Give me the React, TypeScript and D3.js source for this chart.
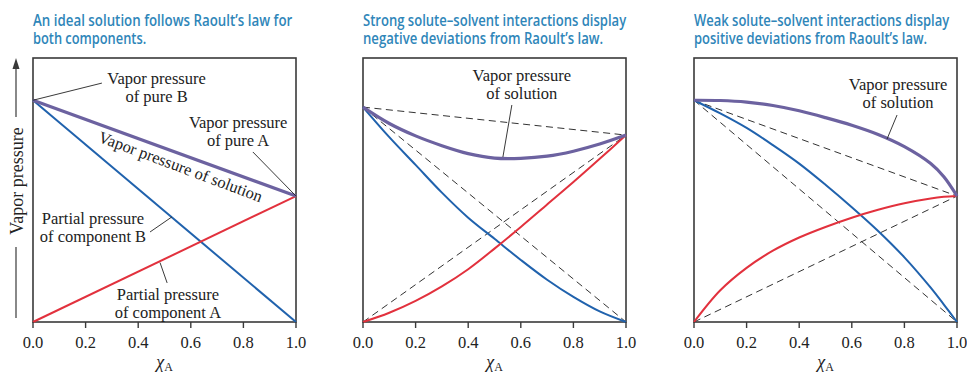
import React, { useRef, useLayoutEffect, useState } from "react";
import * as d3 from "d3";

// shared axis ticks
const ticks = [0, 0.2, 0.4, 0.6, 0.8, 1.0];

// panel 1: ideal solution (straight lines)
const chiIdeal = [0, 1];
const partialBIdeal = [0.84, 0];
const partialAIdeal = [0, 0.477];
const totalIdeal = [0.84, 0.477];

// panel 2: negative deviation
const chiNeg = [0, 0.1, 0.2, 0.3, 0.4, 0.5, 0.6, 0.7, 0.8, 0.9, 1];
const partialBNeg = [0.814, 0.7, 0.595, 0.49, 0.395, 0.315, 0.235, 0.16, 0.095, 0.04, 0];
const partialANeg = [0, 0.035, 0.08, 0.135, 0.2, 0.278, 0.36, 0.445, 0.53, 0.618, 0.708];
const totalNeg = [0.814, 0.752, 0.705, 0.668, 0.638, 0.621, 0.62, 0.628, 0.647, 0.674, 0.708];

// panel 3: positive deviation
const chiPos = [0, 0.1, 0.2, 0.3, 0.4, 0.5, 0.6, 0.7, 0.8, 0.9, 0.95, 1];
const partialBPos = [0.84, 0.79, 0.735, 0.67, 0.6, 0.52, 0.435, 0.345, 0.245, 0.13, 0.066, 0];
const partialAPos = [0, 0.12, 0.205, 0.27, 0.32, 0.36, 0.395, 0.425, 0.45, 0.468, 0.474, 0.477];
const totalPos = [0.84, 0.839, 0.833, 0.82, 0.8, 0.774, 0.745, 0.71, 0.664, 0.6, 0.55, 0.477];

const titles = [
  ["An ideal solution follows Raoult\u2019s law for", "both components."],
  ["Strong solute\u2013solvent interactions display", "negative deviations from Raoult\u2019s law."],
  ["Weak solute\u2013solvent interactions display", "positive deviations from Raoult\u2019s law."],
];
const titleWidths = [
  [259, 113],
  [263, 240],
  [255, 233],
];

const BLUE = "#2062ad";
const RED = "#e2313d";
const PURPLE = "#6c62a0";
const INK = "#3a3a3a";
const TITLE = "#2f86b9";
const SERIF = "'Liberation Serif', 'DejaVu Serif', serif";
const SANS = "'Open Sans', sans-serif";

const panelLefts = [33, 363, 694];
const panelW = 263;
const top = 58;
const bottom = 322;

type Note = { lines: string[]; at: [number, number]; from: [number, number]; to: [number, number] };

const notes: Note[][] = [
  [
    { lines: ["Vapor pressure", "of pure B"], at: [0.47, 0.9], from: [0.262, 0.905], to: [0, 0.84] },
    { lines: ["Vapor pressure", "of pure A"], at: [0.78, 0.735], from: [0.836, 0.644], to: [1, 0.477] },
    { lines: ["Partial pressure", "of component B"], at: [0.228, 0.371], from: [0.445, 0.341], to: [0.528, 0.398] },
    { lines: ["Partial pressure", "of component A"], at: [0.513, 0.083], from: [0.483, 0.225], to: [0.51, 0.148] },
  ],
  [{ lines: ["Vapor pressure", "of solution"], at: [0.604, 0.913], from: [0.566, 0.822], to: [0.532, 0.625] }],
  [{ lines: ["Vapor pressure", "of solution"], at: [0.776, 0.879], from: [0.772, 0.784], to: [0.734, 0.693] }],
];

const series = [
  { chi: chiIdeal, b: partialBIdeal, a: partialAIdeal, t: totalIdeal, dashed: false },
  { chi: chiNeg, b: partialBNeg, a: partialANeg, t: totalNeg, dashed: true },
  { chi: chiPos, b: partialBPos, a: partialAPos, t: totalPos, dashed: true },
];

// squeeze a title line to the width it has in the print
const TitleLine = ({ x, y, width, text }: { x: number; y: number; width: number; text: string }) => {
  const ref = useRef<SVGTextElement>(null);
  const [sx, setSx] = useState(0.8);
  useLayoutEffect(() => {
    if (ref.current) {
      const len = ref.current.getComputedTextLength();
      if (len > 0) setSx(width / len);
    }
  }, [width, text]);
  return (
    <text
      ref={ref}
      transform={`translate(${x},${y}) scale(${sx},1)`}
      fontFamily={SANS}
      fontSize={16}
      fontWeight={600}
      fill={TITLE}
    >
      {text}
    </text>
  );
};

const Panel = ({ i }: { i: number }) => {
  const left = panelLefts[i];
  const x = d3.scaleLinear().domain([0, 1]).range([left, left + panelW]);
  const y = d3.scaleLinear().domain([0, 1]).range([bottom, top]);
  const s = series[i];
  const line = d3
    .line<[number, number]>()
    .x((d) => x(d[0]))
    .y((d) => y(d[1]))
    .curve(d3.curveCatmullRom.alpha(0.5));
  const pts = (vals: number[]) => s.chi.map((c, k) => [c, vals[k]] as [number, number]);
  const n = s.chi.length - 1;
  const pB = s.b[0];
  const pA = s.a[n];

  return (
    <g>
      {titles[i].map((t, k) => (
        <TitleLine key={k} x={left} y={26 + k * 18} width={titleWidths[i][k]} text={t} />
      ))}
      <rect x={left} y={top} width={panelW} height={bottom - top} fill="white" stroke={INK} strokeWidth={1.6} />
      {s.dashed && (
        <g stroke="#333" strokeWidth={1} strokeDasharray="7,4.5" fill="none">
          <line x1={x(0)} y1={y(pB)} x2={x(1)} y2={y(0)} />
          <line x1={x(0)} y1={y(0)} x2={x(1)} y2={y(pA)} />
          <line x1={x(0)} y1={y(pB)} x2={x(1)} y2={y(pA)} />
        </g>
      )}
      <path d={line(pts(s.b)) || ""} fill="none" stroke={BLUE} strokeWidth={2} />
      <path d={line(pts(s.a)) || ""} fill="none" stroke={RED} strokeWidth={2} />
      <path d={line(pts(s.t)) || ""} fill="none" stroke={PURPLE} strokeWidth={3.2} />
      {ticks.map((t) => (
        <g key={t}>
          <line x1={x(t)} x2={x(t)} y1={bottom} y2={bottom + 6} stroke={INK} strokeWidth={1.4} />
          <text x={x(t)} y={bottom + 26} textAnchor="middle" fontFamily={SERIF} fontSize={16.5} fill="#222">
            {t.toFixed(1)}
          </text>
        </g>
      ))}
      <text x={x(0.5)} y={368} textAnchor="middle" fontFamily={SERIF} fontSize={18} fill="#222">
        <tspan fontStyle="italic">{"\u03c7"}</tspan>
        <tspan fontSize={12} dy={3}>A</tspan>
      </text>
      {notes[i].map((nt, k) => (
        <g key={k}>
          <line x1={x(nt.from[0])} y1={y(nt.from[1])} x2={x(nt.to[0])} y2={y(nt.to[1])} stroke="#222" strokeWidth={0.9} />
          {nt.lines.map((l, j) => (
            <text
              key={j}
              x={x(nt.at[0])}
              y={y(nt.at[1]) + j * 18}
              textAnchor="middle"
              fontFamily={SERIF}
              fontSize={16.5}
              fill="#222"
            >
              {l}
            </text>
          ))}
        </g>
      ))}
      {i === 0 && (
        <text
          transform={`translate(${x(0.559)},${y(0.582)}) rotate(20.5)`}
          textAnchor="middle"
          dominantBaseline="middle"
          fontFamily={SERIF}
          fontSize={16.5}
          fill="#222"
        >
          Vapor pressure of solution
        </text>
      )}
    </g>
  );
};

export default function App() {
  const yMid = 181;
  return (
    <div style={{ position: "absolute", left: 0, top: 0 }}>
      <svg width={967} height={374} style={{ display: "block", background: "white" }}>
        <g>
          <line x1={16} x2={16} y1={bottom - 4} y2={yMid + 66} stroke={INK} strokeWidth={1.2} />
          <line x1={16} x2={16} y1={yMid - 64} y2={top + 10} stroke={INK} strokeWidth={1.2} />
          <path d={`M16,${top} L12.5,${top + 11} L19.5,${top + 11} Z`} fill={INK} />
          <text
            transform={`translate(22.5,${yMid}) rotate(-90)`}
            textAnchor="middle"
            fontFamily={SERIF}
            fontSize={18}
            fill="#222"
          >
            Vapor pressure
          </text>
        </g>
        {[0, 1, 2].map((i) => (
          <Panel key={i} i={i} />
        ))}
      </svg>
    </div>
  );
}
